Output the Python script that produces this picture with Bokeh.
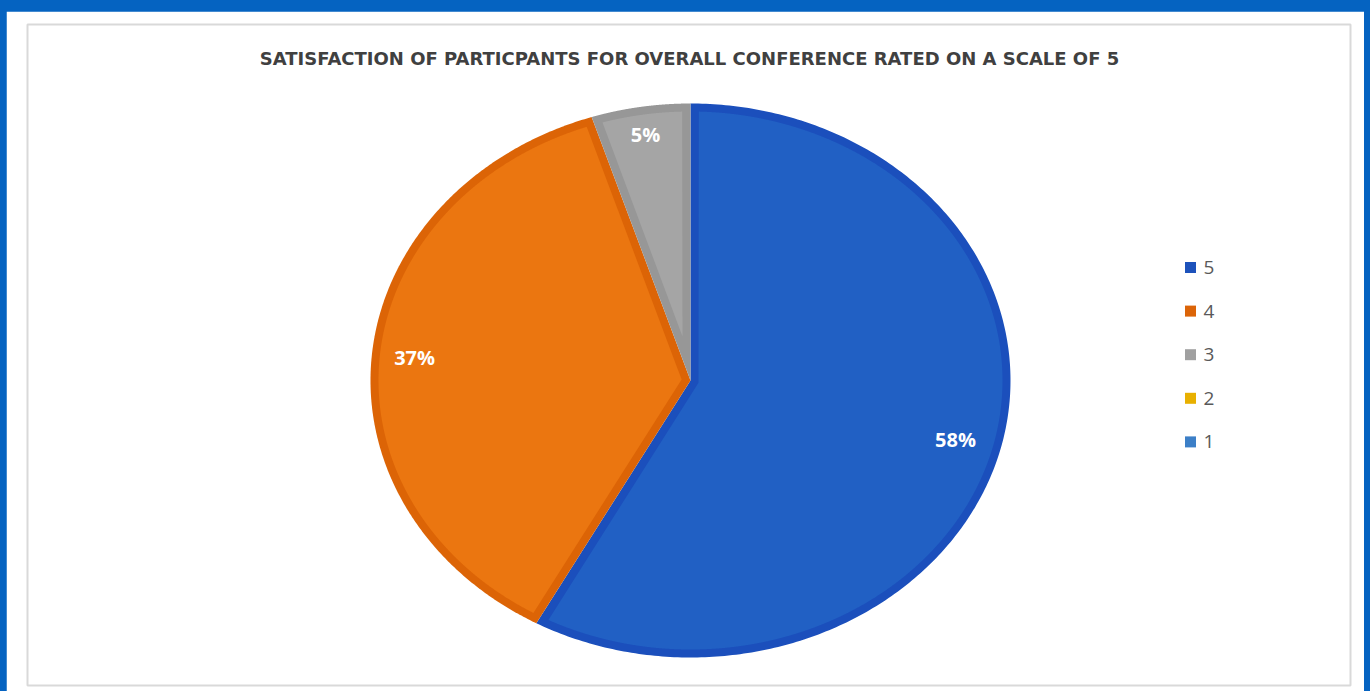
import numpy as np
from bokeh.plotting import figure
from bokeh.models import Range1d, GlobalInlineStyleSheet
from bokeh.core.properties import value
from bokeh.embed import file_html
from bokeh.resources import INLINE

# ---------------- data ----------------
title_text = "SATISFACTION OF PARTICPANTS FOR OVERALL CONFERENCE RATED ON A SCALE OF 5"
categories = ["5", "4", "3", "2", "1"]
percentages = [58, 37, 5, 0, 0]

# ---------------- style ----------------
fill_colors = ["#2160C4", "#EB7610", "#A5A5A5", "#FFC000", "#4472C4"]
edge_colors = ["#1B4FBC", "#DC6406", "#979797", "#E8B000", "#3C7FC7"]
legend_colors = ["#1D52BB", "#DB6408", "#A0A0A0", "#E8B000", "#3C7FC7"]

W, H = 1358, 680
ML, MR, MT, MB = 21, 14, 13, 6
FW, FH = W - ML - MR, H - MT - MB

p = figure(width=W, height=H, output_backend="svg", toolbar_location=None,
           x_range=Range1d(0, FW), y_range=Range1d(0, FH),
           x_axis_location=None, y_axis_location=None,
           min_border_left=ML, min_border_right=MR,
           min_border_top=MT, min_border_bottom=MB)
p.grid.visible = False
p.background_fill_color = "white"
p.border_fill_color = "white"
p.outline_line_color = "#D9D9D9"
p.outline_line_width = 2
p.stylesheets = [GlobalInlineStyleSheet(
    css="body{margin:11px 6px 0 6px !important;background:#0563C1 !important;}")]

# pie geometry (pixels == data units)
cx, cy = 663.0, 305.0
rx, ry = 320.0, 277.0
d = 8.0

vals = np.array(percentages, dtype=float)
fracs = vals / vals.sum()
start = np.pi / 2

outer_xs, outer_ys, inner_xs, inner_ys, oc, ic = [], [], [], [], [], []
label_x, label_y, label_t = [], [], []
label_frac = [0.855, 0.866, 0.90, 0.86, 0.86]

tt = np.linspace(0, 2 * np.pi, 4000, endpoint=False)
ex = cx + (rx - d) * np.cos(tt)
ey = cy + (ry - d) * np.sin(tt)

for i, f in enumerate(fracs):
    if f <= 0:
        continue
    a0 = start
    a1 = start - 2 * np.pi * f
    t = np.linspace(a0, a1, 300)
    outer_xs.append(np.concatenate([[cx], cx + rx * np.cos(t)]))
    outer_ys.append(np.concatenate([[cy], cy + ry * np.sin(t)]))
    oc.append(edge_colors[i])

    phi0 = np.arctan2(ry * np.sin(a0), rx * np.cos(a0))
    phi1 = np.arctan2(ry * np.sin(a1), rx * np.cos(a1))
    span = (phi0 - phi1) % (2 * np.pi)
    phib = phi0 - span / 2
    s = d / np.sin(span / 2)
    ccx, ccy = cx + s * np.cos(phib), cy + s * np.sin(phib)
    psi = np.arctan2(ey - ccy, ex - ccx)
    off = (phi0 - psi) % (2 * np.pi)
    keep = off <= span
    order = np.argsort(off[keep])
    px = ex[keep][order]
    py = ey[keep][order]
    inner_xs.append(np.concatenate([[ccx], px]))
    inner_ys.append(np.concatenate([[ccy], py]))
    ic.append(fill_colors[i])

    am = (a0 + a1) / 2
    label_x.append(cx + label_frac[i] * rx * np.cos(am))
    label_y.append(cy + label_frac[i] * ry * np.sin(am))
    label_t.append(f"{percentages[i]}%")
    start = a1

p.patches(outer_xs, outer_ys, fill_color=oc, line_color=None)
p.patches(inner_xs, inner_ys, fill_color=ic, line_color=None)

p.text(x=label_x, y=label_y, text=label_t, text_color="white",
       text_font=value("Open Sans"), text_font_style="bold",
       text_font_size="20px", text_align="center", text_baseline="middle")

# title
p.text(x=[662], y=[627], text=[title_text], text_color="#404040",
       text_font=value("DejaVu Sans"), text_font_style="bold",
       text_font_size="18px", text_align="center", text_baseline="middle")

# legend
n = len(categories)
lg_y = [418 - 43.6 * k for k in range(n)]
p.scatter(x=[1163] * n, y=lg_y, marker="square", size=11,
          fill_color=legend_colors, line_color=None)
p.text(x=[1176] * n, y=lg_y, text=categories, text_color="#595959",
       text_font=value("Open Sans"), text_font_size="19px",
       text_align="left", text_baseline="middle")

open("out.html", "w").write(file_html(p, INLINE))
